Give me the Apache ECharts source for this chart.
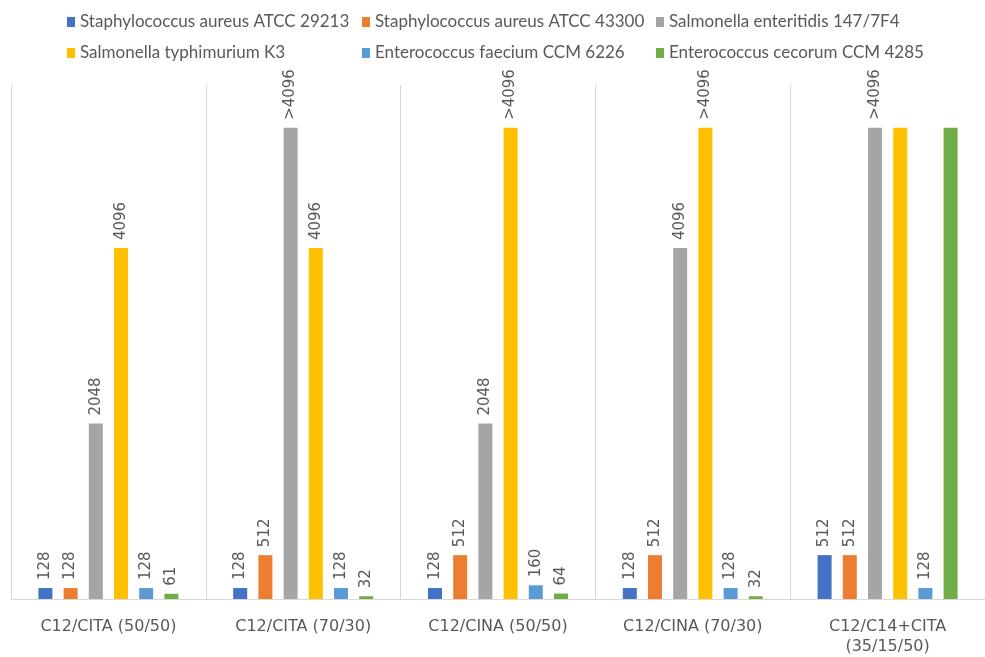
<!DOCTYPE html>
<html><head><meta charset="utf-8">
<script src="https://cdn.jsdelivr.net/npm/echarts@6/dist/echarts.min.js"></script>
<style>html,body{margin:0;padding:0;background:#fff}#c{width:985px;height:657px}</style>
</head><body><div id="c"></div>
<script>
var categories = ['C12/CITA (50/50)', 'C12/CITA (70/30)', 'C12/CINA (50/50)', 'C12/CINA (70/30)', 'C12/C14+CITA\n(35/15/50)'];
var seriesNames = ['Staphylococcus aureus ATCC 29213', 'Staphylococcus aureus ATCC 43300', 'Salmonella enteritidis 147/7F4', 'Salmonella typhimurium K3', 'Enterococcus faecium CCM 6226', 'Enterococcus cecorum CCM 4285'];
var colors = ['#4472C4', '#ED7D31', '#A5A5A5', '#FFC000', '#5B9BD5', '#70AD47'];
// ">4096" drawn as 5500
var staph29213 = [128, 128, 128, 128, 512];
var staph43300 = [128, 512, 512, 512, 512];
var salmEnter = [2048, 5500, 2048, 4096, 5500];
var salmTyph = [4096, 4096, 5500, 5500, 5500];
var entFaecium = [128, 128, 160, 128, 128];
var entCecorum = [61, 32, 64, 32, 5500];
var staph29213Labels = ['128', '128', '128', '128', '512'];
var staph43300Labels = ['128', '512', '512', '512', '512'];
var salmEnterLabels = ['2048', '>4096', '2048', '4096', '>4096'];
var salmTyphLabels = ['4096', '4096', '>4096', '>4096', ''];
var entFaeciumLabels = ['128', '128', '160', '128', '128'];
var entCecorumLabels = ['61', '32', '64', '32', ''];

var values = [staph29213, staph43300, salmEnter, salmTyph, entFaecium, entCecorum];
var labels = [staph29213Labels, staph43300Labels, salmEnterLabels, salmTyphLabels, entFaeciumLabels, entCecorumLabels];

var chart = echarts.init(document.getElementById('c'), null, {renderer: 'canvas'});
var legendText = {fontFamily: 'Lato', fontSize: 17, color: '#595959', lineHeight: 18};
function mkLegend(left, names) {
  return {orient: 'vertical', left: left, top: 8, itemGap: 13, itemWidth: 8, itemHeight: 10, icon: 'rect',
    data: names, textStyle: legendText, selectedMode: false};
}
var series = values.map(function (v, i) {
  return {
    name: seriesNames[i], type: 'bar', data: v, barWidth: 14, barGap: '80%',
    itemStyle: {color: colors[i]},
    label: {show: true, position: 'top', rotate: 90, align: 'left', verticalAlign: 'middle', distance: 8,
      fontFamily: 'DejaVu Sans', fontSize: 15, color: '#595959',
      formatter: function (p) { return labels[p.seriesIndex][p.dataIndex]; }}
  };
});
chart.setOption({
  animation: false,
  legend: [mkLegend(62, [seriesNames[0], seriesNames[3]]), mkLegend(357, [seriesNames[1], seriesNames[4]]), mkLegend(651, [seriesNames[2], seriesNames[5]])],
  grid: {left: 11, right: 0, top: 85, bottom: 50, containLabel: false},
  xAxis: {type: 'category', data: categories,
    axisLine: {lineStyle: {color: '#D9D9D9', width: 1}}, axisTick: {show: false},
    splitLine: {show: true, lineStyle: {color: '#D9D9D9', width: 1}},
    axisLabel: {fontFamily: 'DejaVu Sans', fontSize: 16, color: '#595959', margin: 18, lineHeight: 20, interval: 0}},
  yAxis: {type: 'value', min: 0, max: 6000, show: false, splitLine: {show: false}},
  series: series
});
</script></body></html>
